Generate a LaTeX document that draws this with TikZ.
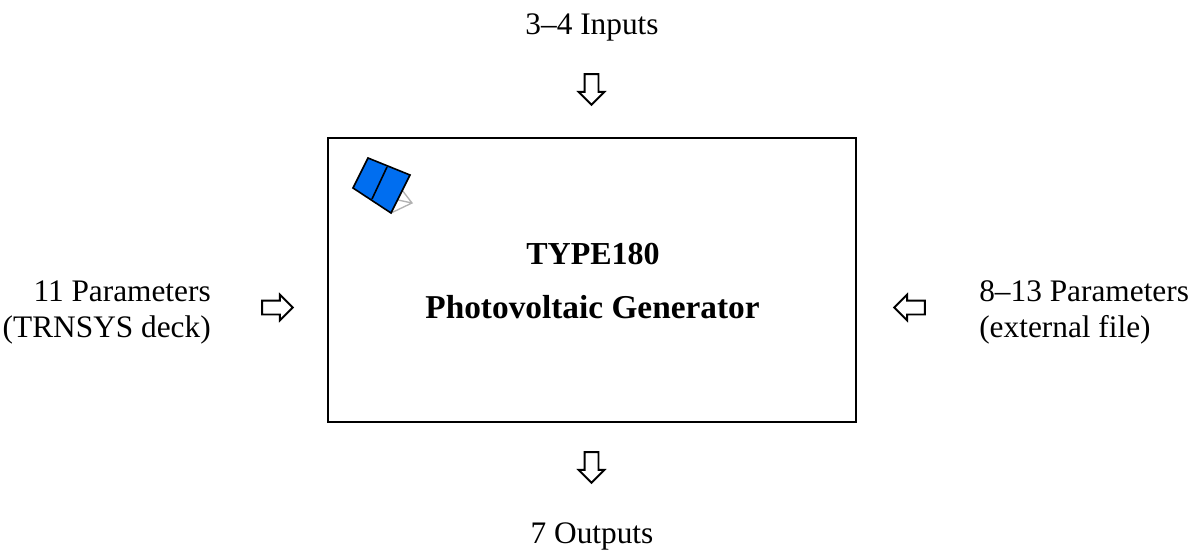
\documentclass[tikz,border=0pt]{standalone}
\usepackage{fontspec}
\setmainfont{Liberation Serif}
\usetikzlibrary{shapes.arrows}
\definecolor{panelblue}{RGB}{0,110,240}
\tikzset{
  blockarrow/.style={draw,line width=1.4pt,single arrow,minimum height=23pt,minimum width=18pt,single arrow tip angle=90,single arrow head extend=4.5pt,inner xsep=0pt,inner ysep=4.5pt},
  label/.style={font=\fontsize{23.5}{27}\selectfont,inner sep=0pt},
  heading/.style={font=\fontsize{25}{30}\selectfont\bfseries,inner sep=0pt}
}
\begin{document}
\begin{tikzpicture}[x=0.75pt,y=-0.75pt]
\useasboundingbox (0,0) rectangle (1202,552);

\node[draw,line width=1.8pt,minimum width=396pt,minimum height=213pt,inner sep=0pt] (box) at (592,280) {};
\node[heading,anchor=base,font=\fontsize{24}{30}\selectfont\bfseries] (type) at (593,265) {TYPE180};
\node[heading,anchor=base] (name) at (592.5,318) {Photovoltaic Generator};

% the panel icon
\draw[gray!60,line width=1pt] (402,190) -- (412,203) -- (391,213) (398,200) -- (412,203);
\draw[fill=panelblue,line width=1.2pt] (368,158) -- (410,175) -- (391,213) -- (353,188) -- cycle;
\draw[line width=1.2pt] (387,167) -- (372,199);

\node[label,anchor=base] (inputs) at (592,35) {3--4 Inputs};
\node[label,anchor=base] (outputs) at (592,543) {7 Outputs};
\node[label,align=right,anchor=east] (deck) at (211,312) {11 Parameters\\(TRNSYS deck)};
\node[label,align=left,anchor=west] (file) at (979,312) {8--13 Parameters\\(external file)};

\node[blockarrow,rotate=-90] (arrowin) at (591.5,86) {};
\node[blockarrow,rotate=-90] (arrowout) at (591.5,464) {};
\node[blockarrow] (arrowdeck) at (274,307.5) {};
\node[blockarrow,rotate=180] (arrowfile) at (913,307.5) {};
\end{tikzpicture}
\end{document}
